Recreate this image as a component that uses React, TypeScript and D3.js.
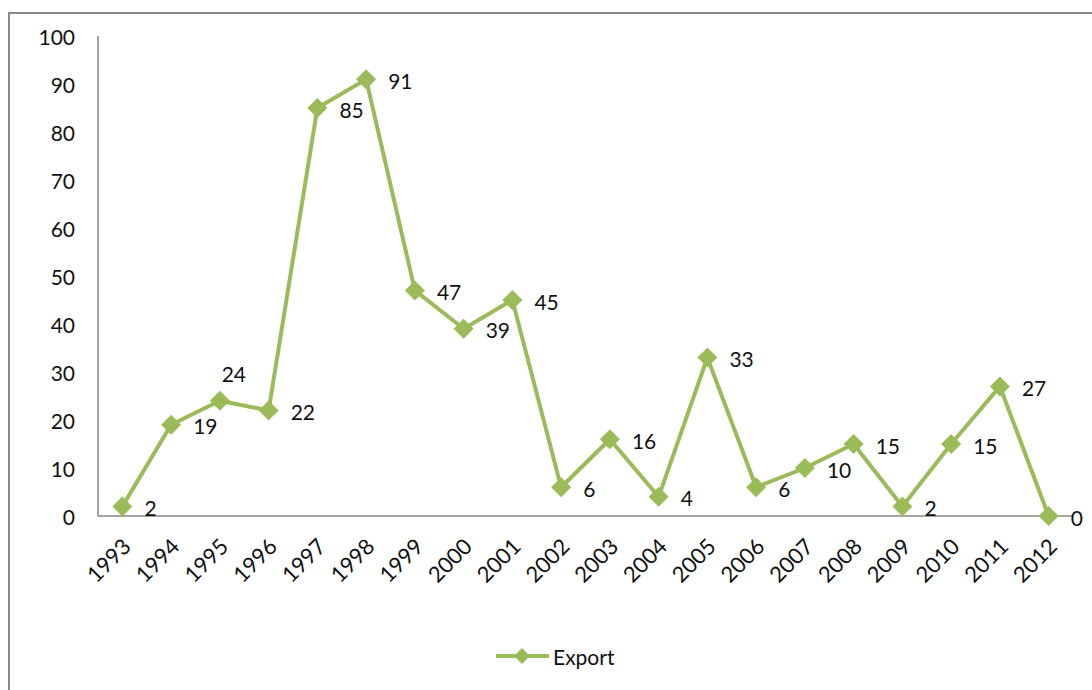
import React from "react";
import * as d3 from "d3";

const years = ["1993","1994","1995","1996","1997","1998","1999","2000","2001","2002","2003","2004","2005","2006","2007","2008","2009","2010","2011","2012"];
const exportValues = [2,19,24,22,85,91,47,39,45,6,16,4,33,6,10,15,2,15,27,0];
const yTicks = [0,10,20,30,40,50,60,70,80,90,100];
const labelAbove = ["1995"];
const seriesName = "Export";

const W = 1092, H = 690;
const left = 98, right = 1073, top = 36, bottom = 516;
const green = "#9BBB59";
const axisGrey = "#868686";
const font = "Lato, 'Open Sans', sans-serif";
const textCol = "#111";

export default function App() {
  const x = d3.scaleBand<string>().domain(years).range([left, right]);
  const cx = (d: string) => (x(d) as number) + x.bandwidth() / 2;
  const y = d3.scaleLinear().domain([0, 100]).range([bottom, top]);
  const line = d3.line<number>().x((_, i) => cx(years[i])).y((v) => y(v));
  const diamond = (px: number, py: number, r: number) =>
    `M${px},${py - r}L${px + r},${py}L${px},${py + r}L${px - r},${py}Z`;

  return (
    <svg width={W} height={H} style={{ position: "fixed", left: 0, top: 0 }} fontFamily={font}>
      <rect x={0} y={0} width={W} height={H} fill="#fff" />
      <rect x={9} y={13} width={W + 20} height={H + 20} fill="none" stroke="#8a8a8a" strokeWidth={2} />
      <line x1={left} x2={left} y1={top} y2={bottom} stroke={axisGrey} strokeWidth={1.5} />
      <line x1={left} x2={right} y1={bottom} y2={bottom} stroke={axisGrey} strokeWidth={1.5} />
      {yTicks.map((t) => (
        <text key={t} x={75} y={y(t)} textAnchor="end" dominantBaseline="central" fontSize={21} fill={textCol}>
          {t}
        </text>
      ))}
      {years.map((yr) => (
        <text key={yr} transform={`translate(${cx(yr) + 4},${bottom + 26}) rotate(-45)`} textAnchor="end" dominantBaseline="central" fontSize={22} fill={textCol}>
          {yr}
        </text>
      ))}
      <path d={line(exportValues) as string} fill="none" stroke={green} strokeWidth={4} strokeLinejoin="round" />
      {exportValues.map((v, i) => (
        <path key={i} d={diamond(cx(years[i]), y(v), 10)} fill={green} />
      ))}
      {exportValues.map((v, i) => {
        const above = labelAbove.includes(years[i]);
        return (
          <text key={i} x={above ? cx(years[i]) + 14 : cx(years[i]) + 22} y={above ? y(v) - 27 : y(v) + 1}
            textAnchor={above ? "middle" : "start"} dominantBaseline="central" fontSize={21} fill={textCol}>
            {v}
          </text>
        );
      })}
      <line x1={496} x2={549} y1={656} y2={656} stroke={green} strokeWidth={4} />
      <path d={diamond(522, 656, 8)} fill={green} />
      <text x={553} y={656} dominantBaseline="central" fontSize={21} fill={textCol}>{seriesName}</text>
    </svg>
  );
}
